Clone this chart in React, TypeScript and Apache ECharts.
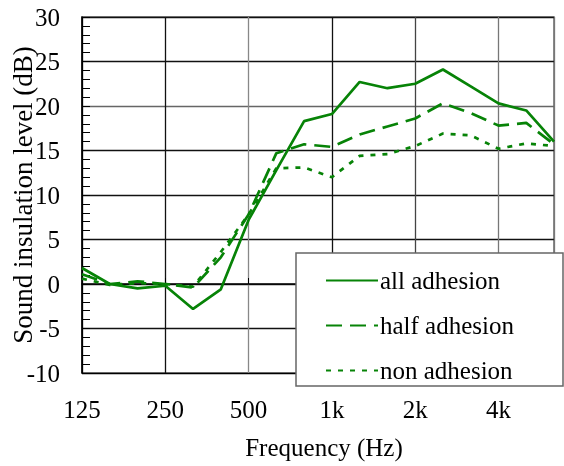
import React, { useEffect, useRef } from "react";
import * as echarts from "echarts";

const frequencies = [125, 160, 200, 250, 315, 400, 500, 630, 800, 1000, 1250, 1600, 2000, 2500, 3150, 4000, 5000, 6300];
const allAdhesion = [1.8, 0.0, -0.5, -0.2, -2.8, -0.6, 7.2, 12.8, 18.3, 19.1, 22.7, 22.0, 22.5, 24.1, 22.2, 20.3, 19.5, 16.0];
const halfAdhesion = [1.1, 0.0, 0.3, 0.0, -0.4, 3.0, 7.8, 14.7, 15.7, 15.4, 16.8, 17.7, 18.6, 20.3, 19.2, 17.8, 18.1, 15.7];
const nonAdhesion = [0.6, -0.1, 0.1, 0.0, -0.3, 3.6, 7.8, 13.0, 13.1, 12.0, 14.4, 14.6, 15.5, 16.9, 16.7, 15.2, 15.8, 15.5];
const tickFreqs = [125, 250, 500, 1000, 2000, 4000];
const tickLabels = ["125", "250", "500", "1k", "2k", "4k"];
const seriesNames = ["all adhesion", "half adhesion", "non adhesion"];

const FONT = "Liberation Serif";
const GREEN = "#078307";

export default function App() {
  const ref = useRef<HTMLDivElement>(null);
  useEffect(() => {
    if (!ref.current) return;
    const chart = echarts.init(ref.current, null, { renderer: "svg" });
    const isTick = (idx: number) => tickFreqs.includes(frequencies[idx]);
    const mk = (name: string, data: number[], type: any) => ({
      name,
      type: "line",
      data,
      symbol: "none",
      showSymbol: false,
      z: 3,
      lineStyle: { color: GREEN, width: 2.7, type },
      itemStyle: { color: GREEN },
    });
    chart.setOption({
      animation: false,
      grid: {
        left: 82,
        top: 17,
        right: 10,
        bottom: 93,
        containLabel: false,
        outerBoundsMode: "none",
        show: true,
        borderColor: "#666",
        borderWidth: 1.5,
      },
      xAxis: {
        type: "category",
        boundaryGap: false,
        data: frequencies.map(String),
        name: "Frequency (Hz)",
        nameLocation: "middle",
        nameGap: 62,
        nameMoveOverlap: false,
        nameTextStyle: { fontFamily: FONT, fontSize: 25, color: "#000", padding: [0, 0, 0, 12] },
        axisLine: { show: true, lineStyle: { color: "#000", width: 1.5 } },
        axisTick: { show: true, inside: true, length: 6, interval: (i: number) => isTick(i), lineStyle: { color: "#000" } },
        axisLabel: {
          interval: (i: number) => isTick(i),
          formatter: (v: string) => {
            const k = tickFreqs.indexOf(Number(v));
            return k >= 0 ? tickLabels[k] : "";
          },
          fontFamily: FONT,
          fontSize: 25,
          color: "#000",
          margin: 24,
        },
        splitLine: {
          show: true,
          interval: (i: number) => isTick(i) || i === frequencies.length - 1,
          lineStyle: { color: ["#000", "#111", "#888", "#111", "#444", "#777", "#777"], width: 1.3 },
        },
      },
      yAxis: {
        type: "value",
        min: -10,
        max: 30,
        interval: 5,
        name: "Sound insulation level (dB)",
        nameLocation: "middle",
        nameGap: 46,
        nameMoveOverlap: false,
        nameTextStyle: { fontFamily: FONT, fontSize: 27, color: "#000" },
        axisLine: { show: true, lineStyle: { color: "#000", width: 1.5 } },
        axisTick: { show: true, inside: true, length: 8, lineStyle: { color: "#000" } },
        minorTick: { show: true, splitNumber: 5, length: 8, lineStyle: { color: "#000" } },
        axisLabel: { fontFamily: FONT, fontSize: 25, color: "#000", margin: 22 },
        splitLine: {
          show: true,
          lineStyle: { color: ["#000", "#111", "#222", "#111", "#111", "#111", "#666", "#111", "#111"], width: 1.3 },
        },
      },
      graphic: [
        {
          type: "rect",
          z: 100,
          shape: { x: 296, y: 253, width: 267, height: 133 },
          style: { fill: "#fff", stroke: "#666", lineWidth: 1.5 },
        },
      ],
      legend: {
        z: 101,
        orient: "vertical",
        left: 325,
        top: 268,
        itemWidth: 52,
        itemHeight: 24,
        itemGap: 20,
        padding: 0,
        itemStyle: { opacity: 0 },
        textStyle: { fontFamily: FONT, fontSize: 25, color: "#000", padding: [0, 0, 0, -3] },
        data: seriesNames,
      },
      series: [
        mk(seriesNames[0], allAdhesion, "solid"),
        mk(seriesNames[1], halfAdhesion, [16, 8]),
        mk(seriesNames[2], nonAdhesion, [5, 7]),
      ],
    });
    return () => chart.dispose();
  }, []);
  return <div ref={ref} style={{ position: "fixed", left: 0, top: 0, width: 564, height: 466 }} />;
}
